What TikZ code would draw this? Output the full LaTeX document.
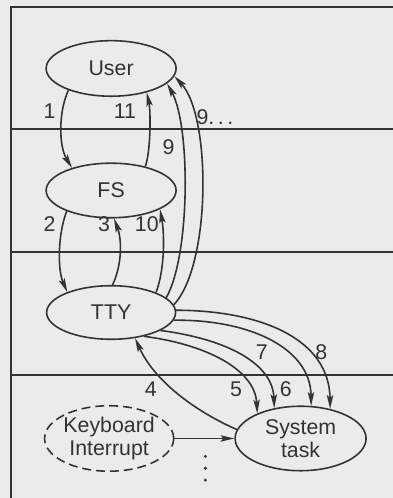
\documentclass[tikz,border=0pt]{standalone}
\usepackage{fontspec}
\setmainfont{Liberation Sans}
\usetikzlibrary{shapes.geometric,arrows.meta}
\definecolor{ink}{HTML}{333333}
\definecolor{bg}{HTML}{EBEBEB}
\begin{document}
\begin{tikzpicture}[x=1pt,y=-1pt,
  every node/.style={font=\fontsize{21.5}{23}\selectfont, text=ink},
  proc/.style={draw=ink, ellipse, line width=1.6pt, inner sep=0pt, align=center},
  lbl/.style={inner sep=0pt},
  arr/.style={draw=ink, line width=1.6pt, -{Stealth[length=14pt,width=6.5pt,inset=3pt]}},
  rule/.style={draw=ink, line width=1.5pt}]
\fill[bg] (-2,-2) rectangle (394,500);
\useasboundingbox (0,0) rectangle (392,498);
% frame and dividers
\draw[rule] (9,500) -- (9,5) -- (394,5);
\draw[rule] (9,128) -- (394,128);
\draw[rule] (9,252) -- (394,252);
\draw[rule] (9,376) -- (394,376);
% nodes
\node[proc, minimum width=131pt, minimum height=56pt] (user) at (110,67) {User};
\node[proc, minimum width=131pt, minimum height=55pt] (fs) at (110,190) {FS};
\node[proc, minimum width=130pt, minimum height=54pt] (tty) at (110,313) {TTY};
\node[proc, minimum width=132pt, minimum height=65pt] (sys) at (301,440) {System\\task};
\node[proc, dashed, dash pattern=on 9pt off 5pt, minimum width=130pt, minimum height=66pt] (kbd) at (108,440) {Keyboard\\Interrupt};
% connectors
\draw[arr] (user.207) .. controls (57,110) and (57,145) .. (fs.150);
\draw[arr] (fs.35) .. controls (150,150) and (150,110) .. (user.-34);
\draw[arr] (fs.205) .. controls (56,235) and (56,270) .. (tty.155);
\draw[arr] (tty.87) .. controls (121,265) and (121,240) .. (fs.-84);
\draw[arr] (tty.24) .. controls (164,270) and (164,235) .. (fs.-21);
\draw[arr] (tty.15) .. controls (190,255) and (190,125) .. (user.-15);
\draw[arr] (tty.7) .. controls (211,265) and (211,115) .. (user.-7);
\draw[arr] (sys.172) .. controls (200,415) and (155,385) .. (tty.-47);
\draw[arr] (tty.-36) .. controls (205,345) and (255,370) .. (sys.150);
\draw[arr] (tty.-20) .. controls (228,340) and (273,365) .. (sys.131);
\draw[arr] (tty.-7) .. controls (252,320) and (311,350) .. (sys.72);
\draw[arr] (tty.2) .. controls (262,311) and (330,340) .. (sys.45);
\draw[arr] (kbd.east) -- (sys.west);
% labels
\node[lbl] (l1) at (48,110) {1};
\node[lbl] (l11) at (124,110) {11};
\node[lbl, anchor=west] (l9a) at (196,116) {9.\hspace{3.5pt}.\hspace{3.5pt}.};
\node[lbl] (l9) at (168,146) {9};
\node[lbl] (l2) at (48,224) {2};
\node[lbl] (l3) at (103,224) {3};
\node[lbl] (l10) at (146,224) {10};
\node[lbl] (l7) at (262,353) {7};
\node[lbl] (l8) at (322,353) {8};
\node[lbl] (l4) at (150,390) {4};
\node[lbl] (l5) at (236,390) {5};
\node[lbl] (l6) at (286,390) {6};
% dots
\fill[ink] (205,458) circle (1.7pt);
\fill[ink] (205,470) circle (1.7pt);
\fill[ink] (205,482) circle (1.7pt);
\end{tikzpicture}
\end{document}
